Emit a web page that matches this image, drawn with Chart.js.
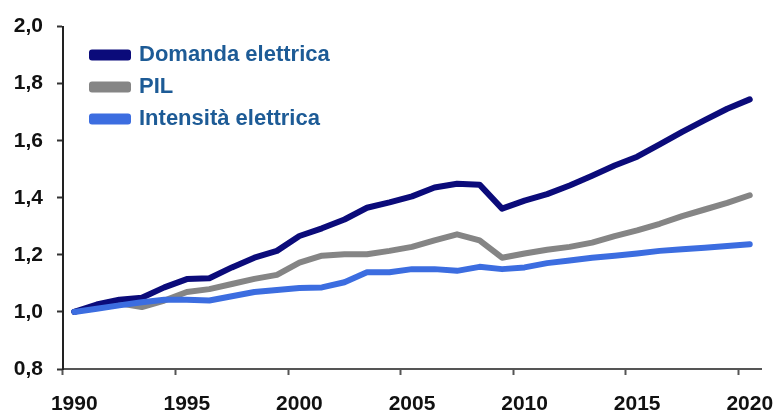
<!DOCTYPE html>
<html>
<head>
<meta charset="utf-8">
<script src="https://cdn.jsdelivr.net/npm/chart.js@4/dist/chart.umd.min.js"></script>
<style>
  html, body { margin: 0; padding: 0; background: #fff; }
  #wrap { width: 778px; height: 414px; }
</style>
</head>
<body>
<div id="wrap"><canvas id="chart1" width="778" height="414"></canvas></div>
<script>
// anni (categorie)
const years = [];
for (let y = 1990; y <= 2020; y++) years.push(String(y));

// valori (indice 1990 = 1,0)
const domanda = [1.00, 1.026, 1.043, 1.05, 1.086, 1.115, 1.118, 1.156, 1.19, 1.214, 1.266,
  1.293, 1.324, 1.365, 1.384, 1.405, 1.436, 1.449, 1.446, 1.362, 1.39,
  1.413, 1.443, 1.477, 1.513, 1.544, 1.587, 1.631, 1.672, 1.712, 1.745];
const pil = [1.00, 1.017, 1.03, 1.017, 1.04, 1.07, 1.08, 1.098, 1.116, 1.13, 1.173,
  1.197, 1.202, 1.202, 1.214, 1.228, 1.251, 1.272, 1.251, 1.19, 1.205,
  1.218, 1.228, 1.243, 1.266, 1.286, 1.309, 1.336, 1.359, 1.382, 1.409];
const intensita = [1.00, 1.011, 1.023, 1.034, 1.043, 1.043, 1.04, 1.055, 1.07, 1.077, 1.084,
  1.086, 1.104, 1.139, 1.139, 1.15, 1.15, 1.144, 1.158, 1.15, 1.156,
  1.171, 1.18, 1.19, 1.197, 1.205, 1.214, 1.22, 1.225, 1.231, 1.237];

const seriesNames = ['Domanda elettrica', 'PIL', 'Intensità elettrica'];
const seriesColors = ['#0b0b7a', '#858585', '#3c6de0'];

const fontMain = "'Liberation Sans', Arial, sans-serif";

function makeLine(i, values, order) {
    return {
        label: seriesNames[i],
        data: values,
        borderColor: seriesColors[i],
        backgroundColor: seriesColors[i],
        borderWidth: 6,
        pointRadius: 0,
        tension: 0,
        borderCapStyle: 'round',
        borderJoinStyle: 'round',
        order: order
    };
}

// sposta la legenda dentro l'area del grafico, un po' in basso a destra
const legendShift = {
    id: 'legendShift',
    afterLayout(chart) {
        const lg = chart.legend;
        if (!lg) return;
        lg.left += 19;
        lg.right += 19;
        lg.top += 34;
        lg.bottom += 34;
    }
};

const ctx1 = document.getElementById('chart1').getContext('2d');

const chart1 = new Chart(ctx1, {
    type: 'line',
    data: {
        labels: years,
        datasets: [
            makeLine(0, domanda, 1),
            makeLine(1, pil, 2),
            makeLine(2, intensita, 0)
        ]
    },
    plugins: [legendShift],
    options: {
        responsive: false,
        animation: false,
        layout: { padding: { top: 14, right: 17, left: 0, bottom: 0 } },
        plugins: {
            tooltip: { enabled: false },
            legend: {
                position: 'chartArea',
                align: 'start',
                labels: {
                    sort: (a, b) => a.datasetIndex - b.datasetIndex,
                    boxWidth: 36,
                    boxHeight: 5,
                    padding: 10,
                    color: '#1d5b96',
                    font: { family: fontMain, size: 22, weight: 'bold' }
                }
            }
        },
        scales: {
            x: {
                type: 'category',
                offset: true,
                grid: {
                    offset: true,
                    drawOnChartArea: false,
                    drawTicks: true,
                    tickLength: 6,
                    tickWidth: 2,
                    tickColor: c => (c.index % 5 === 0 ? '#555' : 'rgba(0,0,0,0)')
                },
                border: { color: '#555', width: 2 },
                ticks: {
                    autoSkip: false,
                    maxRotation: 0,
                    padding: 17,
                    color: '#111',
                    font: { family: fontMain, size: 21, weight: 'bold' },
                    callback: function (val, idx) {
                        return idx % 5 === 0 ? this.getLabelForValue(val) : '';
                    }
                },
                afterFit: s => {
                    s.height = 45;
                    s.paddingLeft = 0;
                    s.paddingRight = 0;
                }
            },
            y: {
                min: 0.8,
                max: 2.0,
                grid: {
                    drawOnChartArea: false,
                    drawTicks: true,
                    tickLength: 6,
                    tickWidth: 2,
                    tickColor: '#333'
                },
                border: { color: '#222', width: 2 },
                ticks: {
                    stepSize: 0.2,
                    padding: 14,
                    color: '#111',
                    font: { family: fontMain, size: 21, weight: 'bold' },
                    callback: v => v.toFixed(1).replace('.', ',')
                },
                afterFit: s => { s.width = 63; }
            }
        }
    }
});
</script>
</body>
</html>
